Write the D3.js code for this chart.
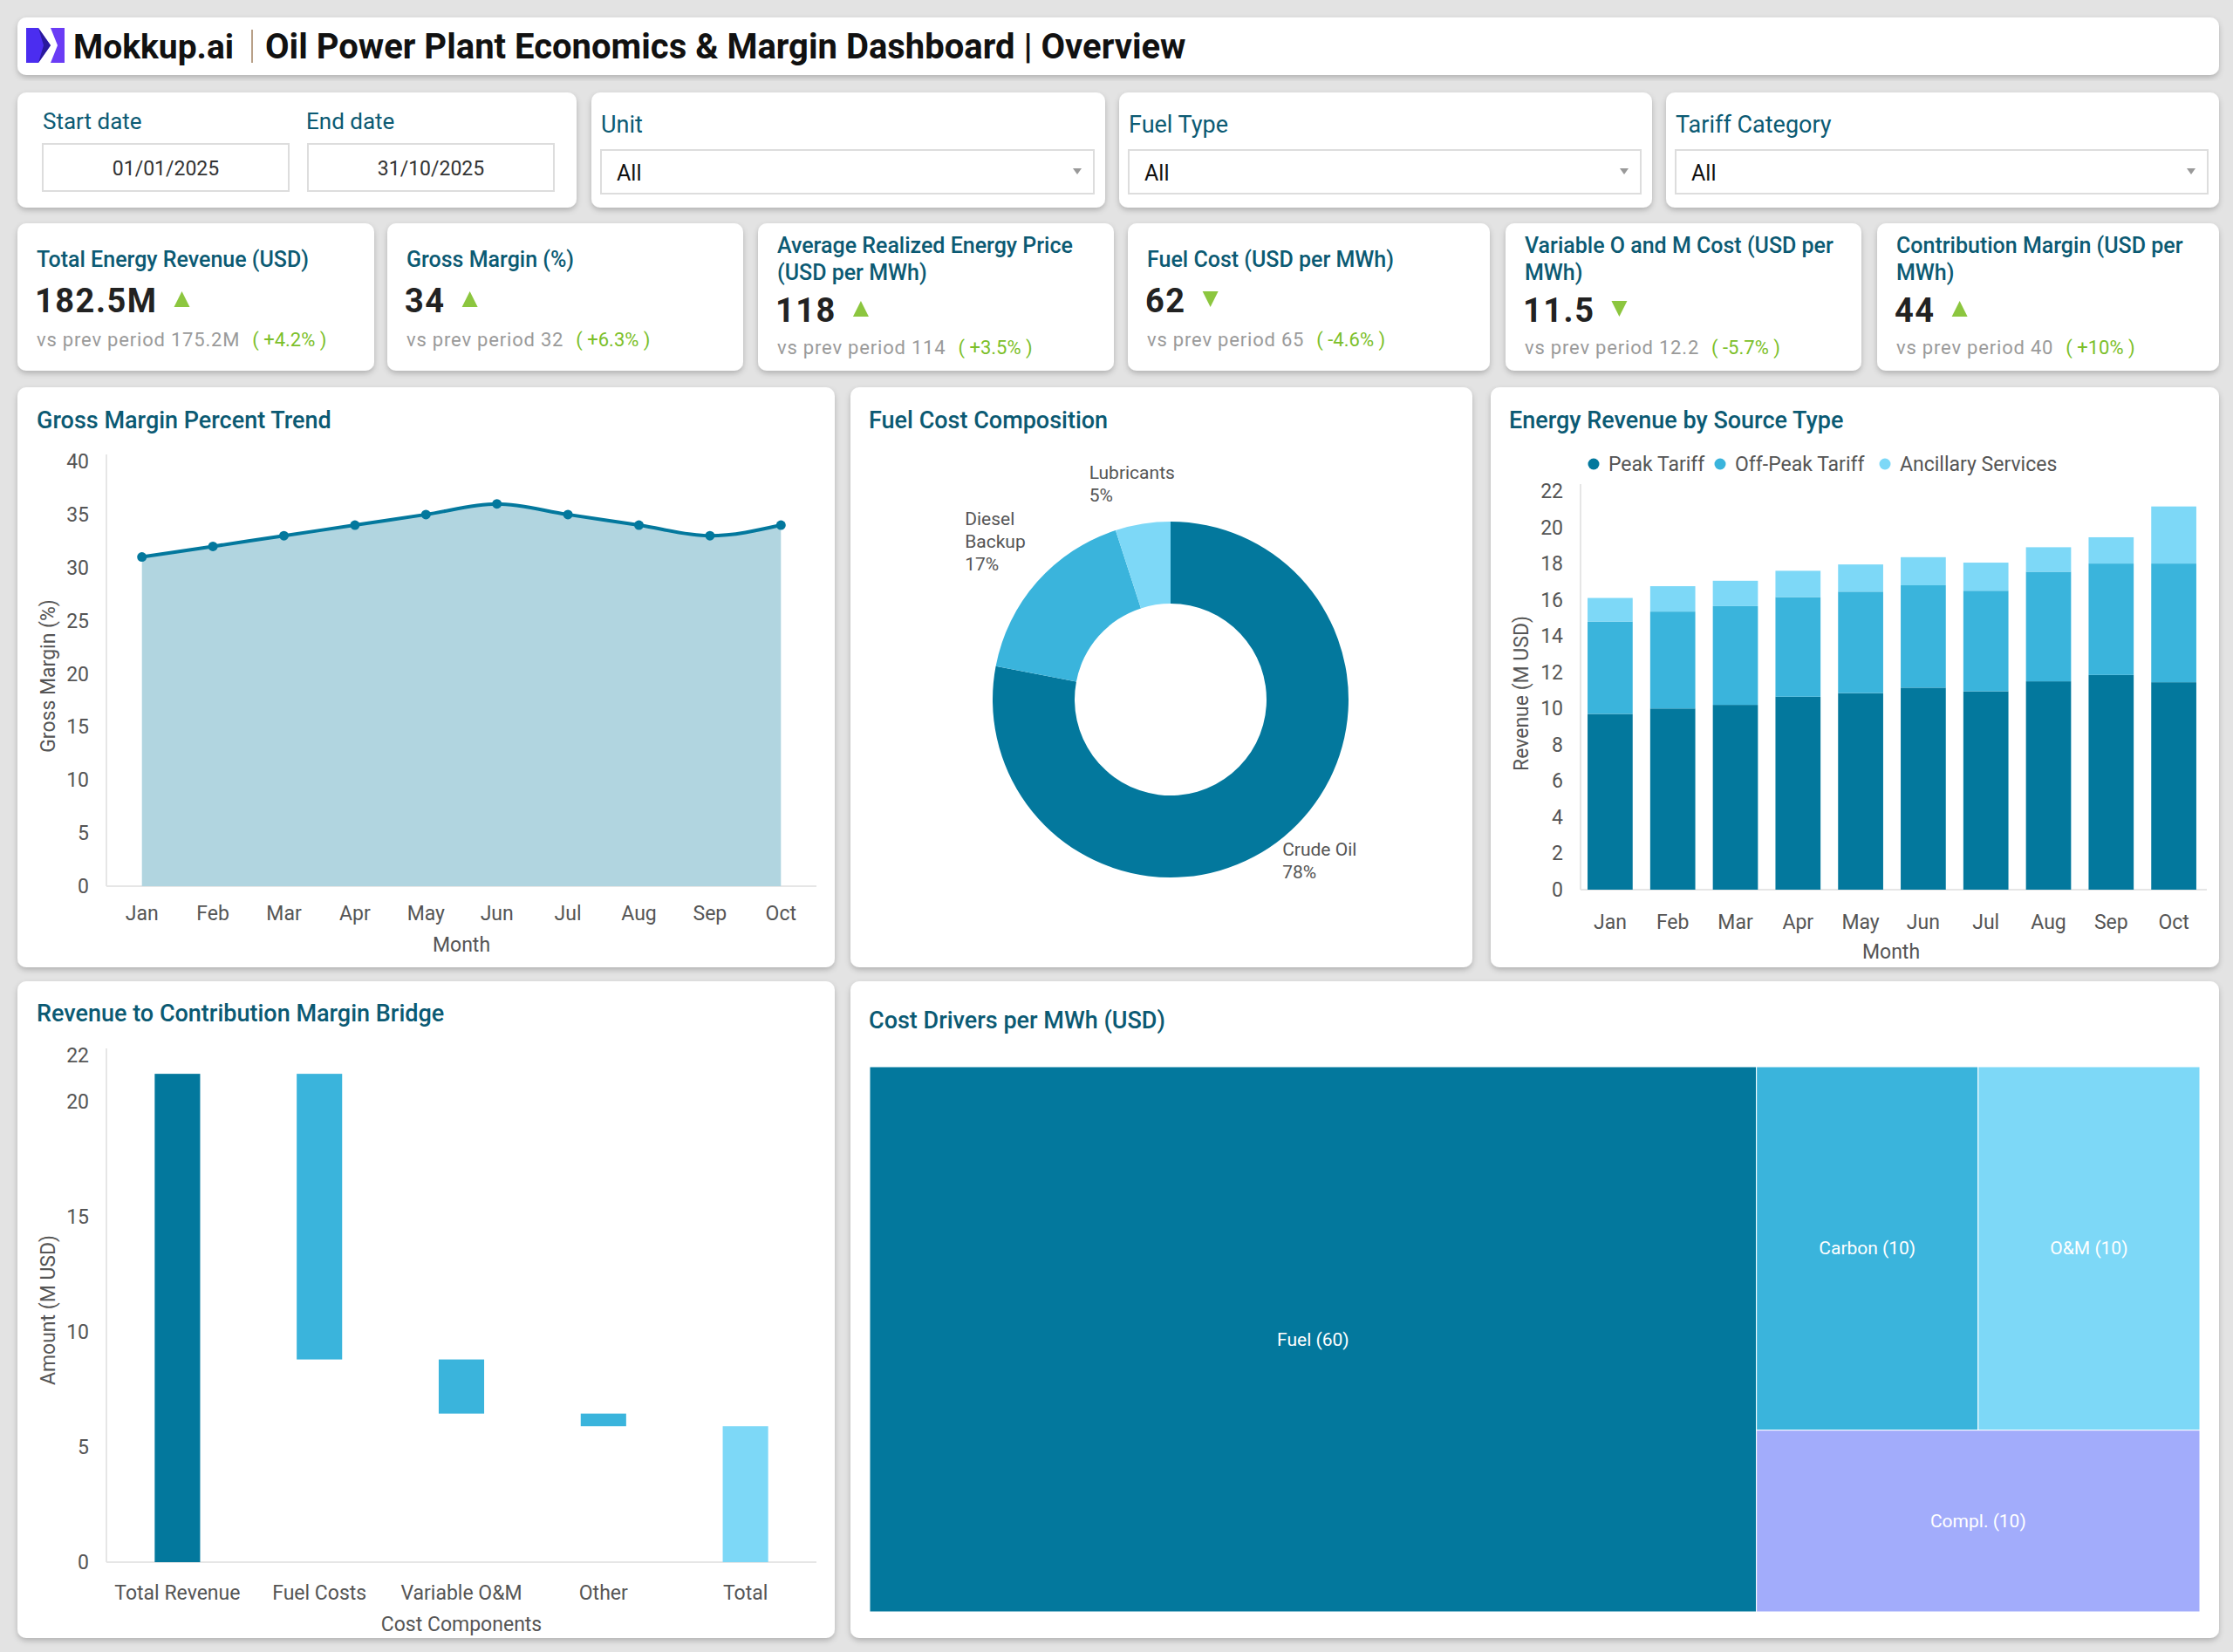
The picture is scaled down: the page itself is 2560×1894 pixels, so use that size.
<!DOCTYPE html>
<html><head><meta charset="utf-8">
<script src="https://cdn.jsdelivr.net/npm/d3@7"></script>
<style>body{margin:0;background:#e3e3e3;font-family:Roboto,"Noto Sans",sans-serif}</style>
</head><body>
<svg id="c" width="2560" height="1894"></svg>
<script>
// ---------- data ----------
const months = ["Jan","Feb","Mar","Apr","May","Jun","Jul","Aug","Sep","Oct"];
const grossMargin = [31,32,33,34,35,36,35,34,33,34];
const gmTicks = [0,5,10,15,20,25,30,35,40];
const peakTariff = [9.7,10.0,10.2,10.65,10.85,11.15,10.95,11.5,11.85,11.45];
const offPeakTariff = [5.1,5.35,5.45,5.5,5.6,5.65,5.55,6.05,6.15,6.55];
const ancillary = [1.3,1.4,1.4,1.45,1.5,1.55,1.55,1.35,1.45,3.15];
const revTicks = [0,2,4,6,8,10,12,14,16,18,20,22];
const fuelLabels = ["Crude Oil","Diesel Backup","Lubricants"];
const fuelShares = [78,17,5];
const bridgeCats = ["Total Revenue","Fuel Costs","Variable O&M","Other","Total"];
const bridgeDeltas = [21.2,-12.4,-2.35,-0.55,null];
const bridgeTicks = [0,5,10,15,20,22];
const driverNames = ["Fuel","Carbon","O&M","Compl."];
const driverValues = [60,10,10,10];
const kpiTitles = [["Total Energy Revenue (USD)"],["Gross Margin (%)"],["Average Realized Energy Price","(USD per MWh)"],["Fuel Cost (USD per MWh)"],["Variable O and M Cost (USD per","MWh)"],["Contribution Margin (USD per","MWh)"]];
const kpiValues = ["182.5M","34","118","62","11.5","44"];
const kpiPrev = ["175.2M","32","114","65","12.2","40"];
const kpiChange = ["+4.2%","+6.3%","+3.5%","-4.6%","-5.7%","+10%"];
const kpiUp = [true,true,true,false,false,true];

const C1="#03789d",C2="#3ab4dc",C3="#7dd8f7",C4="#a2acfb",TT="#0b5a73",GR="#555";
const svg=d3.select("#c");
const defs=svg.append("defs");
const f=defs.append("filter").attr("id","sh").attr("x","-5%").attr("y","-5%").attr("width","110%").attr("height","115%");
f.append("feDropShadow").attr("dx",0).attr("dy",3).attr("stdDeviation",3).attr("flood-color","#000").attr("flood-opacity",0.22);
function card(x,y,w,h){svg.append("rect").attr("x",x).attr("y",y).attr("width",w).attr("height",h).attr("rx",10).attr("fill","#fff").attr("filter","url(#sh)");}
function txt(x,y,s,o={}){return svg.append("text").attr("x",x).attr("y",y).text(s).attr("font-size",o.size||22).attr("fill",o.fill||GR).attr("font-weight",o.w||400).attr("text-anchor",o.a||"start").attr("font-family",o.ff||"Roboto");}

// header
card(20,20,2524,66);
svg.append("path").attr("d","M30,32 L44,32 L58,52 L44,72 L30,72 Z").attr("fill","#4b2df0");
svg.append("path").attr("d","M58,32 L74,32 L74,72 L58,72 L66,52 Z").attr("fill","#6a3cf5");
svg.append("path").attr("d","M44,32 L58,52 L44,72 L50,52 Z").attr("fill","#2a1a9c");
txt(84,67,"Mokkup.ai",{size:39,w:700,fill:"#111"});
svg.append("line").attr("x1",289).attr("x2",289).attr("y1",34).attr("y2",72).attr("stroke","#a08060").attr("stroke-width",1.5);
txt(304,67,"Oil Power Plant Economics & Margin Dashboard | Overview",{size:40,w:700,fill:"#111"});

// filters
card(20,106,641,132);
txt(49,148,"Start date",{size:26,fill:TT});txt(351,148,"End date",{size:26,fill:TT});
[[49,"01/01/2025"],[353,"31/10/2025"]].forEach(([x,s])=>{svg.append("rect").attr("x",x).attr("y",165).attr("width",282).attr("height",54).attr("fill","#fff").attr("stroke","#ddd").attr("stroke-width",2);txt(x+141,201,s,{size:23,a:"middle",fill:"#333"});});
[[678,589,"Unit"],[1283,611,"Fuel Type"],[1910,634,"Tariff Category"]].forEach(([x,w,l])=>{
 card(x,106,w,132);txt(x+11,152,l,{size:27,fill:TT});
 svg.append("rect").attr("x",x+11).attr("y",172).attr("width",w-24).attr("height",50).attr("fill","#fff").attr("stroke","#ddd").attr("stroke-width",2);
 txt(x+29,207,"All",{size:25,fill:"#111"});
 svg.append("path").attr("d",`M${x+w-37},193 l10,0 l-5,7 z`).attr("fill","#999");
});

// KPIs
const kx=[20,444,869,1293,1726,2152],kw=[409,408,408,415,408,392];
kx.forEach((x,i)=>{
 card(x,256,kw[i],169);
 const two=kpiTitles[i].length>1;
 kpiTitles[i].forEach((t,j)=>txt(x+22,(two?290:306)+j*31,t,{size:25,w:500,fill:TT}));
 const vy=two?369:358;
 const v=txt(x+20,vy,kpiValues[i],{size:38,w:700,fill:"#222"}).attr("letter-spacing",1.5);
 const vw=v.node().getComputedTextLength();
 const tx=x+20+vw+28,ty=vy-14;
 svg.append("path").attr("d",kpiUp[i]?`M${tx-9},${ty+8} L${tx+9},${ty+8} L${tx},${ty-10} Z`:`M${tx-9},${ty-10} L${tx+9},${ty-10} L${tx},${ty+8} Z`).attr("fill","#8cc63f");
 const py=two?406:397;
 const p=txt(x+22,py,"vs prev period "+kpiPrev[i],{size:22,fill:"#9a9a9a"}).attr("letter-spacing",0.8);
 const pw=p.node().getComputedTextLength();
 txt(x+22+pw+14,py,"( "+kpiChange[i]+" )",{size:22,fill:"#7cbf2a"});
});

function yaxis(g,scale,x,ticks){g.append("line").attr("x1",x).attr("x2",x).attr("y1",scale.range()[1]-8).attr("y2",scale.range()[0]).attr("stroke","#e6e6e6").attr("stroke-width",2);
 ticks.forEach(t=>txt(x-20,scale(t)+8,t,{size:23,a:"end",fill:GR}));}

// ---- Gross Margin Trend ----
card(20,444,937,665);
txt(42,491,"Gross Margin Percent Trend",{size:27,w:500,fill:TT});
{
 const x=d3.scalePoint().domain(months).range([122,936]).padding(0.5);
 const y=d3.scaleLinear().domain([0,40]).range([1016,529]);
 yaxis(svg,y,122,gmTicks);
 svg.append("line").attr("x1",122).attr("x2",936).attr("y1",1016).attr("y2",1016).attr("stroke","#e6e6e6").attr("stroke-width",2);
 const cur=d3.curveMonotoneX;
 svg.append("path").datum(grossMargin).attr("d",d3.area().x((d,i)=>x(months[i])).y0(y(0)).y1(d=>y(d)).curve(cur)).attr("fill","#b1d5e0");
 svg.append("path").datum(grossMargin).attr("d",d3.line().x((d,i)=>x(months[i])).y(d=>y(d)).curve(cur)).attr("fill","none").attr("stroke",C1).attr("stroke-width",4);
 svg.selectAll(null).data(grossMargin).enter().append("circle").attr("cx",(d,i)=>x(months[i])).attr("cy",d=>y(d)).attr("r",5.5).attr("fill",C1);
 months.forEach(m=>txt(x(m),1055,m,{size:23,a:"middle"}));
 txt(529,1091,"Month",{size:23,a:"middle"});
 txt(0,0,"Gross Margin (%)",{size:23,a:"middle"}).attr("transform","translate(63,775) rotate(-90)");
}

// ---- Donut ----
card(975,444,713,665);
txt(996,491,"Fuel Cost Composition",{size:27,w:500,fill:TT});
{
 const cx=1342,cy=802;
 const pie=d3.pie().sort(null)(fuelShares);
 const arc=d3.arc().innerRadius(110).outerRadius(204);
 const cols=[C1,C2,C3];
 svg.append("g").attr("transform",`translate(${cx},${cy})`).selectAll("path").data(pie).enter().append("path").attr("d",arc).attr("fill",(d,i)=>cols[i]);
 const la=d3.arc().innerRadius(245).outerRadius(245);
 const off=[[-28,-10],[-52,-38],[-55,-11]];
 pie.forEach((d,i)=>{
  const [px,py]=la.centroid(d);
  const lines=i===1?["Diesel","Backup",fuelShares[i]+"%"]:[fuelLabels[i],fuelShares[i]+"%"];
  lines.forEach((l,j)=>txt(cx+px+off[i][0],cy+py+off[i][1]+j*26,l,{size:21,fill:GR}));
 });
}

// ---- Stacked bars ----
card(1709,444,835,665);
txt(1730,491,"Energy Revenue by Source Type",{size:27,w:500,fill:TT});
{
 const x=d3.scaleBand().domain(months).range([1810,2528]).paddingInner(0.28).paddingOuter(0.14);
 const y=d3.scaleLinear().domain([0,22]).range([1020,563]);
 yaxis(svg,y,1812,revTicks);
 svg.append("line").attr("x1",1812).attr("x2",2530).attr("y1",1020).attr("y2",1020).attr("stroke","#e6e6e6").attr("stroke-width",2);
 const rows=months.map((m,i)=>({m,peak:peakTariff[i],off:offPeakTariff[i],anc:ancillary[i]}));
 const st=d3.stack().keys(["peak","off","anc"])(rows);
 const cols=[C1,C2,C3];
 st.forEach((s,k)=>svg.append("g").selectAll("rect").data(s).enter().append("rect").attr("x",d=>x(d.data.m)).attr("width",x.bandwidth()).attr("y",d=>y(d[1])).attr("height",d=>y(d[0])-y(d[1])).attr("fill",cols[k]));
 months.forEach(m=>txt(x(m)+x.bandwidth()/2,1065,m,{size:23,a:"middle"}));
 txt(2168,1099,"Month",{size:23,a:"middle"});
 txt(0,0,"Revenue (M USD)",{size:23,a:"middle"}).attr("transform","translate(1752,795) rotate(-90)");
 const leg=[["Peak Tariff",1827],["Off-Peak Tariff",1972],["Ancillary Services",2161]];
 leg.forEach(([l,lx],i)=>{svg.append("circle").attr("cx",lx).attr("cy",532).attr("r",6.5).attr("fill",cols[i]);txt(lx+17,540,l,{size:23});});
}

// ---- Bridge ----
card(20,1125,937,753);
txt(42,1171,"Revenue to Contribution Margin Bridge",{size:27,w:500,fill:TT});
{
 const x=d3.scaleBand().domain(bridgeCats).range([122,936]).paddingInner(0.68).paddingOuter(0.34);
 const y=d3.scaleLinear().domain([0,22]).range([1791,1210]);
 yaxis(svg,y,122,bridgeTicks);
 svg.append("line").attr("x1",122).attr("x2",936).attr("y1",1791).attr("y2",1791).attr("stroke","#e6e6e6").attr("stroke-width",2);
 let run=0;const bars=[];
 bridgeCats.forEach((c,i)=>{
  if(i===0){bars.push({c,a:0,b:bridgeDeltas[0],col:C1});run=bridgeDeltas[0];}
  else if(bridgeDeltas[i]===null){bars.push({c,a:0,b:run,col:C3});}
  else{bars.push({c,a:run+bridgeDeltas[i],b:run,col:C2});run+=bridgeDeltas[i];}
 });
 svg.append("g").selectAll("rect").data(bars).enter().append("rect").attr("x",d=>x(d.c)).attr("width",x.bandwidth()).attr("y",d=>y(d.b)).attr("height",d=>y(d.a)-y(d.b)).attr("fill",d=>d.col);
 bridgeCats.forEach(c=>txt(x(c)+x.bandwidth()/2,1834,c,{size:23,a:"middle"}));
 txt(529,1870,"Cost Components",{size:23,a:"middle"});
 txt(0,0,"Amount (M USD)",{size:23,a:"middle"}).attr("transform","translate(63,1502) rotate(-90)");
}

// ---- Treemap ----
card(975,1125,1569,753);
txt(996,1179,"Cost Drivers per MWh (USD)",{size:27,w:500,fill:TT});
{
 const tree={name:"root",children:[{name:driverNames[0],value:driverValues[0]},{name:"rest",children:[{name:"top",children:[{name:driverNames[1],value:driverValues[1]},{name:driverNames[2],value:driverValues[2]}]},{name:driverNames[3],value:driverValues[3]}]}]};
 const root=d3.hierarchy(tree).sum(d=>d.value||0);
 d3.treemap().tile(d3.treemapSliceDice).size([1525,625])(root);
 const cols={"Fuel":C1,"Carbon":C2,"O&M":C3,"Compl.":C4};
 const g=svg.append("g").attr("transform","translate(997,1223)");
 root.leaves().forEach(l=>{
  g.append("rect").attr("x",l.x0).attr("y",l.y0).attr("width",l.x1-l.x0).attr("height",l.y1-l.y0).attr("fill",cols[l.data.name]).attr("stroke","#fff").attr("stroke-width",1);
  g.append("text").attr("x",(l.x0+l.x1)/2).attr("y",(l.y0+l.y1)/2+7).attr("text-anchor","middle").attr("fill","#fff").attr("font-size",21).attr("font-family","Roboto").text(`${l.data.name} (${l.data.value})`);
 });
}
</script></body></html>
